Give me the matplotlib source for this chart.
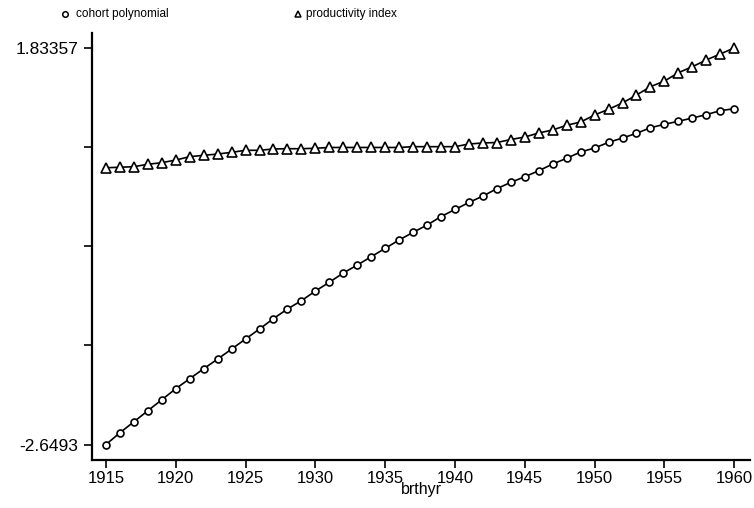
import matplotlib
matplotlib.use("Agg")
import matplotlib.pyplot as plt
from matplotlib.lines import Line2D

plt.rcParams['font.family'] = ['Liberation Sans', 'DejaVu Sans']

years = list(range(1915, 1961))

cohort_polynomial = [
    -2.6493, -2.516, -2.392, -2.267, -2.143, -2.018, -1.905, -1.792, -1.683, -1.570,
    -1.456, -1.343, -1.225, -1.117, -1.023, -0.914, -0.815, -0.710, -0.620, -0.526,
    -0.431, -0.337, -0.250, -0.168, -0.072, 0.008, 0.087, 0.160, 0.243, 0.315,
    0.378, 0.446, 0.522, 0.587, 0.658, 0.703, 0.767, 0.816, 0.869, 0.932,
    0.971, 1.005, 1.042, 1.080, 1.125, 1.147,
]

productivity_index = [
    0.480, 0.485, 0.492, 0.519, 0.537, 0.567, 0.605, 0.620, 0.635, 0.654,
    0.677, 0.677, 0.692, 0.695, 0.695, 0.700, 0.709, 0.709, 0.709, 0.709,
    0.709, 0.709, 0.718, 0.718, 0.718, 0.718, 0.748, 0.760, 0.765, 0.799,
    0.827, 0.873, 0.907, 0.960, 0.997, 1.076, 1.141, 1.212, 1.302, 1.396,
    1.460, 1.554, 1.622, 1.698, 1.766, 1.83357,
]

x_ticks = [1915, 1920, 1925, 1930, 1935, 1940, 1945, 1950, 1955, 1960]
y_min_label = -2.6493
y_max_label = 1.83357
y_tick_labels = ["-2.6493", "", "", "", "1.83357"]
legend_labels = ["cohort polynomial", "productivity index"]
x_label = "brthyr"

fig = plt.figure(figsize=(7.54, 5.08), dpi=100)
ax = fig.add_axes([92/754, 1 - 460/508, (750 - 92)/754, (460 - 33)/508])

ax.plot(years, cohort_polynomial, color='black', lw=1.2, marker='o', ms=5,
        mfc='white', mec='black', mew=1.2, clip_on=False)
ax.plot(years, productivity_index, color='black', lw=1.2, marker='^', ms=6.5,
        mfc='white', mec='black', mew=1.2, clip_on=False)

ax.set_xlim(1914.0, 1961.13)
ax.set_ylim(-2.824, 2.003)

step = (y_max_label - y_min_label) / 4
yt = [y_min_label + i * step for i in range(5)]
ax.set_yticks(yt)
ax.set_yticklabels(y_tick_labels)
ax.set_xticks(x_ticks)
ax.set_xticklabels([str(v) for v in x_ticks])

for s in ['top', 'right']:
    ax.spines[s].set_visible(False)
for s in ['left', 'bottom']:
    ax.spines[s].set_linewidth(1.6)
    ax.spines[s].set_color('black')

ax.tick_params(axis='both', direction='out', length=6, width=1.2, colors='black',
               labelsize=12, pad=2)
ax.tick_params(axis='y', pad=4, labelsize=12.5)
ax.set_xlabel(x_label, fontsize=11.5, labelpad=-3)

# legend at top
fig.add_artist(Line2D([65/754], [1 - 14/508], transform=fig.transFigure, marker='o',
                      ms=4, mfc='white', mec='black', mew=1.1, ls='none'))
fig.text(76/754, 1 - 14/508, legend_labels[0], fontsize=8.5, va='center', ha='left')
fig.add_artist(Line2D([298/754], [1 - 14/508], transform=fig.transFigure, marker='^',
                      ms=4.5, mfc='white', mec='black', mew=1.1, ls='none'))
fig.text(306/754, 1 - 14/508, legend_labels[1], fontsize=8.5, va='center', ha='left')

fig.savefig("out.png", dpi=100)
